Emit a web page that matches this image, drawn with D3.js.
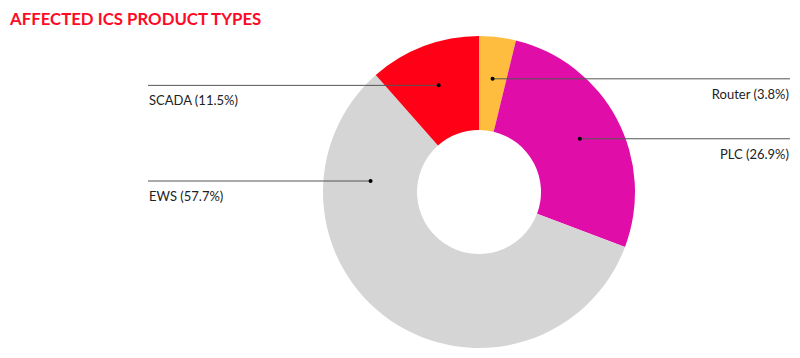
<!DOCTYPE html>
<html><head><meta charset="utf-8">
<script src="https://cdn.jsdelivr.net/npm/d3@7"></script>
<style>body{margin:0;background:#fff}svg{display:block}</style>
</head><body>
<svg id="c" width="800" height="358"></svg>
<script>
const categories = ["Router", "PLC", "EWS", "SCADA"];
const values = [3.8, 26.9, 57.7, 11.5];
const colors = ["#ffbd3f", "#e00da8", "#d5d5d5", "#ff0016"];
const title = "AFFECTED ICS PRODUCT TYPES";

const svg = d3.select("#c");
const cx = 479, cy = 192, R = 156, r0 = 62, rLabel = 114;
const font = "Lato, 'Noto Sans', sans-serif";

svg.append("text").attr("x", 10).attr("y", 25)
  .attr("font-family", font).attr("font-weight", 700).attr("font-size", 16.8)
  .attr("fill", "#ff0a26").text(title);

const data = categories.map((c, i) => ({cat: c, val: values[i], color: colors[i]}));
const pie = d3.pie().value(d => d.val).sort(null);
const arcs = pie(data);
const arc = d3.arc().innerRadius(r0).outerRadius(R);

const g = svg.append("g").attr("transform", `translate(${cx},${cy})`);
g.selectAll("path").data(arcs).join("path")
  .attr("d", arc).attr("fill", d => d.data.color);

const lg = svg.append("g");
arcs.forEach(a => {
  const mid = (a.startAngle + a.endAngle) / 2;
  let x = Math.sin(mid) * rLabel, y = -Math.cos(mid) * rLabel;
  const left = x < 0;
  // keep labels in upper half: slide point along an inner circle
  const maxY = -11;
  if (y > maxY) { const rr = rLabel - 5; y = maxY; x = (left ? -1 : 1) * Math.sqrt(rr*rr - y*y); }
  const px = cx + x, py = cy + y;
  const x2 = left ? 148 : 790;
  lg.append("line").attr("x1", px).attr("y1", py).attr("x2", x2).attr("y2", py)
    .attr("stroke", "#555").attr("stroke-width", 1);
  lg.append("circle").attr("cx", px).attr("cy", py).attr("r", 2).attr("fill", "#000");
  lg.append("text").attr("x", left ? 149 : 789).attr("y", py + 20)
    .attr("text-anchor", left ? "start" : "end")
    .attr("font-family", font).attr("font-size", 13).attr("fill", "#222")
    .text(`${a.data.cat} (${a.data.val}%)`);
});
</script>
</body></html>
